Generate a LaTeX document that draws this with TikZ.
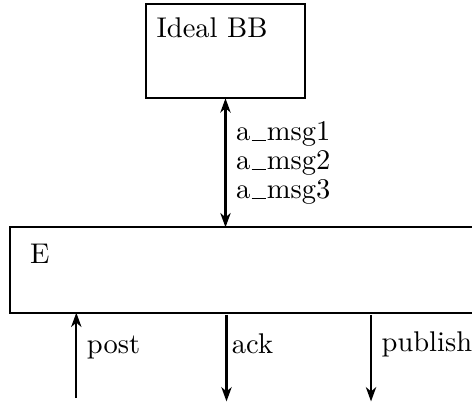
\documentclass[tikz,border=0pt]{standalone}
\usetikzlibrary{positioning,arrows.meta}
\newcommand\us{\kern0.4pt\rule[-0.3pt]{5pt}{0.45pt}\kern0.4pt}
\begin{document}
\begin{tikzpicture}[>={Stealth[length=5pt, width=3.6pt, inset=1.5pt]}, thick]
	\tikzset{box/.style={draw, rectangle, inner sep=0pt, outer sep=0pt}}
	\useasboundingbox (0,0) rectangle (5.82,-4.957);
	% boxes
	\node[box, minimum width=1.961cm, minimum height=1.163cm, anchor=north west] (bb) at (1.80,-0.049) {};
	\node[anchor=north west] (bbname) at ([yshift=-1.2pt]bb.north west) {Ideal BB};
	\node[box, minimum width=5.80cm, minimum height=1.053cm, anchor=north west] (E) at (0.123,-2.803) {};
	\node[anchor=north west] (Ename) at ([shift={(3.3pt,-2.3pt)}]E.north west) {E};
	% channel between E and the board
	\draw[<->] (bb.south) -- (bb.south |- E.north) node[midway, right, align=left] {a\us msg1\\[-1.8pt]a\us msg2\\[-1.8pt]a\us msg3};
	% inputs and outputs of E
	\coordinate (postin) at (0.941,-4.908);
	\coordinate (ackout) at (2.793,-4.95);
	\coordinate (pubout) at (4.575,-4.95);
	\draw[->] (postin) -- (postin |- E.south) node[pos=.59, right] {post};
	\draw[->, shorten <=0.8pt] (ackout |- E.south) -- (ackout) node[pos=.35, right, inner sep=1.5pt] {ack};
	\draw[->, shorten <=0.8pt] (pubout |- E.south) -- (pubout) node[pos=.36, right] {publish};
\end{tikzpicture}
\end{document}
